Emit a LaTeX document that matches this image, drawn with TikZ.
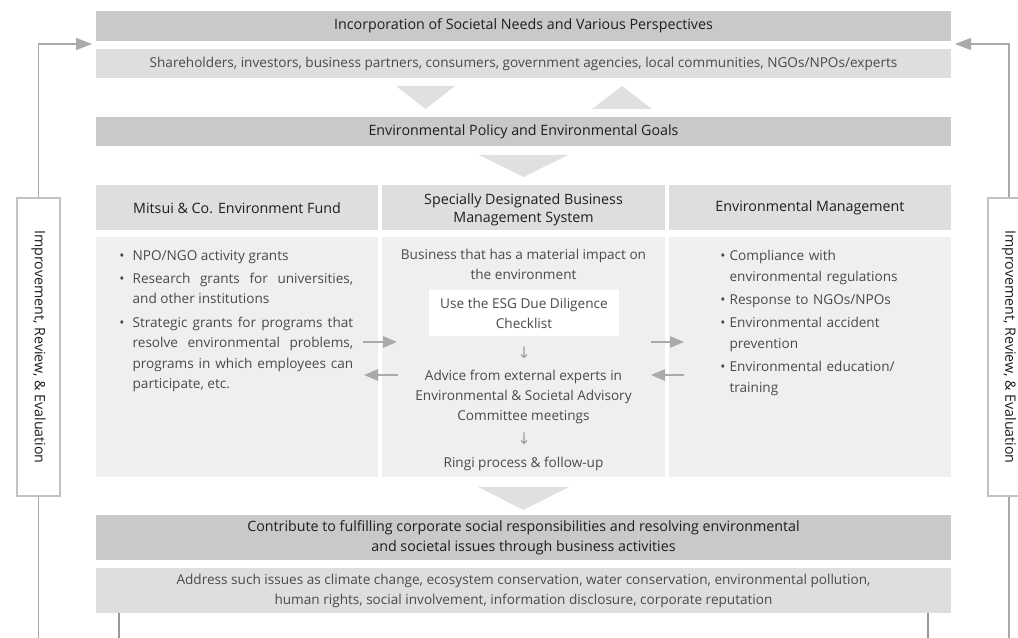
\documentclass[tikz,border=0pt]{standalone}
\usepackage{fontspec}
\usepackage{graphicx}
\setmainfont{Open Sans}
\newfontfamily\arrowfont{DejaVu Sans}
\usetikzlibrary{arrows.meta}
\definecolor{bardark}{HTML}{C9C9C9}
\definecolor{barlight}{HTML}{DEDEDE}
\definecolor{bodybg}{HTML}{EFEFEF}
\definecolor{trigray}{HTML}{E0E0E0}
\definecolor{linegray}{HTML}{AAAAAA}
\definecolor{boxgray}{HTML}{C2C2C2}
\definecolor{headtxt}{HTML}{1E1E1E}
\definecolor{bodytxt}{HTML}{4A4A4A}
\newlength{\bulw}
\newcommand{\myitem}{\par\hangindent=\bulw\hangafter=1\noindent\makebox[\bulw][l]{\textbullet}}
\begin{document}
\begin{tikzpicture}[x=0.75pt,y=-0.75pt,
  headfont/.style={font=\fontsize{10.7}{15}\selectfont},
  bodyfont/.style={font=\fontsize{10.2}{15}\selectfont},
  bar/.style={headfont, inner sep=0pt, minimum width=641.25pt, text=headtxt, align=center},
  colhead/.style={inner sep=0pt, fill=barlight, minimum height=33.75pt},
  headtext/.style={inner sep=0pt, text=headtxt, align=center, font=\fontsize{10.7}{13.8}\selectfont},
  colbody/.style={inner sep=0pt, fill=bodybg, minimum height=180pt},
  listtxt/.style={inner sep=0pt, text=bodytxt, font=\fontsize{10.2}{15.4}\selectfont},
  midtxt/.style={bodyfont, inner sep=0pt, text=bodytxt, align=center},
  smallarrow/.style={inner sep=0pt, text=bodytxt!55, font=\arrowfont\fontsize{12}{12}\selectfont},
  sidebox/.style={headfont, draw=boxgray, line width=1.5pt, fill=white, minimum width=32pt, minimum height=224pt, inner sep=0pt, text=headtxt},
  fb/.style={draw=linegray, line width=1.1pt},
  fbarrow/.style={fb, -{Triangle[length=12pt,width=9pt]}},
  colarrow/.style={draw=linegray, line width=1.1pt, -{Triangle[length=10.5pt,width=8.5pt]}},
  tri/.style={fill=trigray}
]
\useasboundingbox (0,0) rectangle (1018,638);

% top bars
\node[bar, fill=bardark, minimum height=22.5pt] (top) at (523.5,26) {Incorporation of Societal Needs and Various Perspectives};
\node[bar, bodyfont, fill=barlight, minimum height=21.75pt, text=bodytxt] (stake) at (523.5,63.5) {Shareholders, investors, business partners, consumers, government agencies, local communities, NGOs/NPOs/experts};
\fill[tri] (396,86) -- (455,86) -- (425.5,109) -- cycle;
\fill[tri] (592,109) -- (652,109) -- (622,86) -- cycle;
\node[bar, fill=bardark, minimum height=21.75pt] (policy) at (523.5,131.5) {Environmental Policy and Environmental Goals};
\fill[tri] (479,155) -- (568,155) -- (523.5,177) -- cycle;

% column headers
\node[colhead, minimum width=211.5pt] (h1) at (237,207.5) {};
\node[colhead, minimum width=212.25pt] (h2) at (523.5,207.5) {};
\node[colhead, minimum width=211.5pt] (h3) at (810,207.5) {};
\node[headtext] (h1t) at (237,208) {Mitsui \& Co. Environment Fund};
\node[headtext] (h2t) at (523.5,209.5) {Specially Designated Business\\Management System};
\node[headtext] (h3t) at (810,208) {Environmental Management};

% column bodies
\node[colbody, minimum width=211.5pt] (b1) at (237,357) {};
\node[colbody, minimum width=212.25pt] (b2) at (523.5,357) {};
\node[colbody, minimum width=211.5pt] (b3) at (810,357) {};

% left list (justified)
\node[listtxt, text width=175.5pt, align=justify, anchor=north west] (l1) at (119,236.5) {\setlength{\bulw}{10pt}\setlength{\parskip}{2.1pt}%
\myitem NPO/NGO activity grants
\myitem Research grants for universities,\linebreak and other institutions
\myitem Strategic grants for programs that\linebreak resolve environmental problems,\linebreak programs in which employees can\linebreak participate, etc.\par};

% middle
\node[midtxt] (m1) at (523.5,264) {Business that has a material impact on\\the environment};
\node[midtxt, fill=white, minimum width=142.5pt, minimum height=34.5pt] (esg) at (524,313) {Use the ESG Due Diligence\\Checklist};
\node[smallarrow] (d1) at (524,353) {↓};
\node[midtxt] (m2) at (523.5,397) {Advice from external experts in\\Environmental \& Societal Advisory\\Committee meetings};
\node[smallarrow] (d2) at (524,439) {↓};
\node[midtxt] (m3) at (523.5,463.5) {Ringi process \& follow-up};

% right list
\node[listtxt, text width=180pt, align=left, anchor=north west] (r1) at (720,237) {\setlength{\bulw}{7pt}\setlength{\parskip}{2.1pt}%
\myitem Compliance with\newline environmental regulations
\myitem Response to NGOs/NPOs
\myitem Environmental accident\newline prevention
\myitem Environmental education/\newline training\par};

% column arrows
\coordinate (a1s) at (363,342); \coordinate (a1e) at (397,342);
\coordinate (a2s) at (398,375); \coordinate (a2e) at (364,375);
\coordinate (a3s) at (651,342); \coordinate (a3e) at (684,342);
\coordinate (a4s) at (684,375); \coordinate (a4e) at (651,375);
\draw[colarrow] (a1s) -- (a1e);
\draw[colarrow] (a2s) -- (a2e);
\draw[colarrow] (a3s) -- (a3e);
\draw[colarrow] (a4s) -- (a4e);

% bottom
\fill[tri] (478,487) -- (569,487) -- (523.5,510) -- cycle;
\node[bar, fill=bardark, minimum height=33.75pt] (goal) at (523.5,537.5) {Contribute to fulfilling corporate social responsibilities and resolving environmental\\and societal issues through business activities};
\node[bar, bodyfont, fill=barlight, minimum height=33.75pt, text=bodytxt] (issues) at (523.5,590.5) {Address such issues as climate change, ecosystem conservation, water conservation, environmental pollution,\\human rights, social involvement, information disclosure, corporate reputation};

% bottom exits
\coordinate (e1) at (119,638); \coordinate (e2) at (928,638);
\draw[draw=linegray!90!black, line width=0.8pt] (issues.south -| e1) -- (e1);
\draw[draw=linegray!90!black, line width=0.8pt] (issues.south -| e2) -- (e2);

% side boxes and feedback loops
\node[sidebox] (sl) at (38.5,347) {\rotatebox{-90}{Improvement, Review, \& Evaluation}};
\node[sidebox] (sr) at (1009,347) {\rotatebox{-90}{Improvement, Review, \& Evaluation}};
\coordinate (inL) at (92,44); \coordinate (inR) at (955,44);
\coordinate (bl) at (38.5,638); \coordinate (br) at (1009,638);
\draw[fbarrow] (sl.north) |- (inL);
\draw[fbarrow] (sr.north) |- (inR);
\draw[fb] (sl.south) -- (bl);
\draw[fb] (sr.south) -- (br);
\end{tikzpicture}
\end{document}
